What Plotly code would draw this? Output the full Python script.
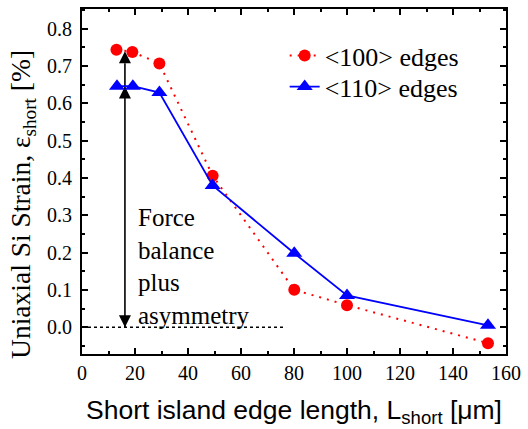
import plotly.graph_objects as go

# Data
x100 = [13.0, 19.0, 29.2, 49.3, 80.1, 100.0, 153.2]
y100 = [0.744, 0.738, 0.707, 0.406, 0.100, 0.059, -0.043]
x110 = [13.2, 19.2, 29.2, 49.3, 80.1, 100.0, 153.2]
y110 = [0.646, 0.646, 0.629, 0.380, 0.198, 0.085, 0.005]
zero_x = [0, 77]
zero_y = [0, 0]
arrow_x = [16.2, 16.2, 16.2]
arrow_y = [0.0, 0.645, 0.74]
arrow_symbols = ["arrow-down", "arrow-up", "arrow-up"]
x_ticks = [0, 20, 40, 60, 80, 100, 120, 140, 160]
y_ticks = [0.0, 0.1, 0.2, 0.3, 0.4, 0.5, 0.6, 0.7, 0.8]

SERIF = "Liberation Serif"
SANS = "Liberation Sans"

fig = go.Figure()
fig.add_trace(go.Scatter(x=zero_x, y=zero_y, mode="lines",
                         line=dict(color="black", width=1.5, dash="dot"),
                         showlegend=False, hoverinfo="skip"))
fig.add_trace(go.Scatter(x=arrow_x, y=arrow_y, mode="lines+markers",
                         line=dict(color="black", width=1.6),
                         marker=dict(symbol=arrow_symbols, size=12, color="black"),
                         showlegend=False, hoverinfo="skip"))
fig.add_trace(go.Scatter(x=x100, y=y100, mode="lines+markers", name="&lt;100&gt; edges",
                         line=dict(color="#FF0000", width=2, dash="2px,6px"),
                         marker=dict(symbol="circle", size=12, color="#FF0000"),
                         legend="legend"))
fig.add_trace(go.Scatter(x=x110, y=y110, mode="lines+markers", name="&lt;110&gt; edges",
                         line=dict(color="#0000FF", width=1.8),
                         marker=dict(symbol="triangle-up", size=14, color="#0000FF"),
                         legend="legend2"))

fig.add_annotation(x=20.3, y=0.163, xref="x", yref="y", xanchor="left", yanchor="middle",
                   align="left", showarrow=False,
                   text="Force<br>balance<br>plus<br>asymmetry",
                   font=dict(family=SERIF, size=25, color="black"))
fig.add_annotation(x=-0.14, y=0.434, xref="paper", yref="paper", xanchor="center", yanchor="middle",
                   textangle=-90, showarrow=False,
                   text="Uniaxial Si Strain, ε<sub>short</sub> [%]",
                   font=dict(family=SERIF, size=27.5, color="black"))

axis_common = dict(showline=True, linecolor="black", linewidth=2, mirror="allticks",
                   ticks="inside", ticklen=6, tickwidth=1.5, tickcolor="black",
                   showgrid=False, zeroline=False)

fig.update_xaxes(range=[0, 160], tickvals=x_ticks, ticktext=[str(v) for v in x_ticks],
                 tickfont=dict(family=SERIF, size=20, color="black"),
                 minor=dict(dtick=10, ticks="inside", ticklen=3, tickwidth=1.5, tickcolor="black"),
                 title=dict(text="Short island edge length, L<sub>short</sub> [μm]",
                            font=dict(family=SANS, size=26.5, color="black"), standoff=17),
                 **axis_common)
fig.update_yaxes(range=[-0.072, 0.853], tickvals=y_ticks, ticktext=[f"{v:.1f}" for v in y_ticks],
                 tickfont=dict(family=SERIF, size=20, color="black"),
                 minor=dict(dtick=0.05, tick0=0, ticks="inside", ticklen=3, tickwidth=1.5, tickcolor="black"),
                 ticklabelstandoff=4,
                 **axis_common)

leg_common = dict(xanchor="left", yanchor="top", font=dict(family=SERIF, size=26, color="black"),
                  bgcolor="rgba(0,0,0,0)")
fig.update_layout(width=528, height=429, margin=dict(l=82, r=17, t=7, b=75),
                  paper_bgcolor="white", plot_bgcolor="white",
                  font=dict(family=SERIF, color="black"),
                  legend=dict(x=0.478, y=0.933, **leg_common),
                  legend2=dict(x=0.478, y=0.843, **leg_common))
fig.write_html("out.html")
